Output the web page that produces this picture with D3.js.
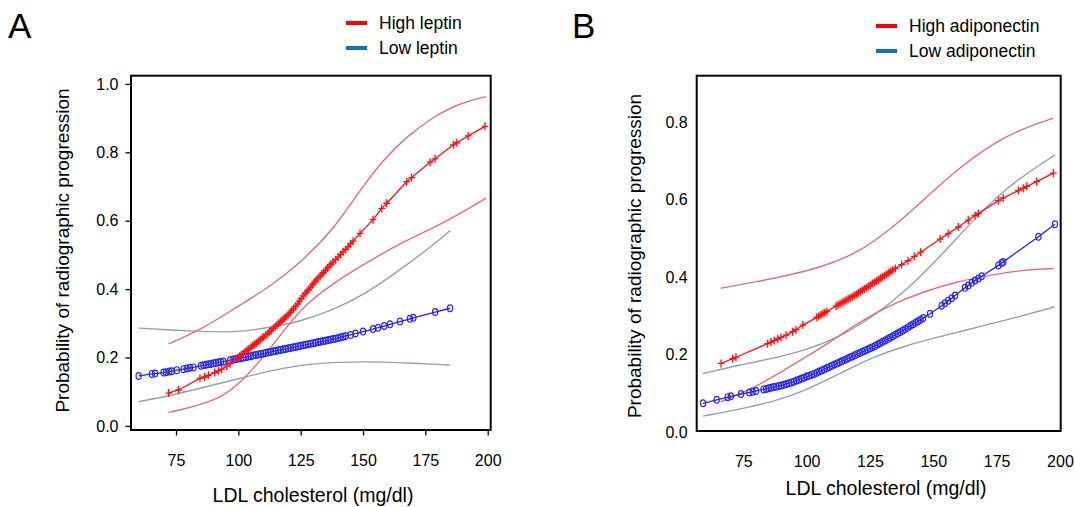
<!DOCTYPE html>
<html>
<head>
<meta charset="utf-8">
<script src="https://cdn.jsdelivr.net/npm/d3@7"></script>
<style>
  body { margin: 0; background: #fff; }
  svg { display: block; font-family: "Liberation Sans", Arial, sans-serif; }
</style>
</head>
<body>
<svg id="chart" width="1074" height="507"></svg>
<script>
// ---- data: [LDL mg/dl, probability] ----

// Panel A: leptin
const highLeptinFit = [[72,0.096],[76,0.105],[84.6,0.139],[86.5,0.143],[88,0.148],[90.5,0.156],[92,0.161],[93.3,0.166],[95.3,0.175],[96.7,0.182],
  [99,0.196],[99.8,0.2],[100.5,0.204],[101.2,0.208],[102,0.212],[102.8,0.217],[103.5,0.221],[104.2,0.225],[105,0.229],[105.8,0.234],[106.5,0.238],[107.2,0.242],[108,0.247],[108.8,0.252],[109.5,0.256],[110.2,0.26],[111,0.266],[111.8,0.27],[112.5,0.275],[113.2,0.279],[114,0.285],[114.8,0.29],[115.5,0.295],[116.2,0.3],[117,0.305],[117.8,0.31],[118.5,0.315],[119.2,0.32],[120,0.325],[120.8,0.332],[121.5,0.338],[122.2,0.343],[123,0.35],[123.8,0.357],[124.5,0.365],[125.2,0.372],[126,0.38],[126.8,0.387],[127.5,0.393],[128.2,0.399],[129,0.406],[129.8,0.413],[130.5,0.42],[131.2,0.426],[132,0.432],[132.8,0.438],[133.5,0.444],[134.2,0.449],[135,0.455],[135.8,0.462],[136.5,0.467],[137.2,0.473],[138,0.479],[139,0.486],[140,0.494],[141,0.501],[142,0.509],[143,0.516],[144,0.524],[145,0.532],[146,0.54],
  [148.8,0.563],[154,0.603],[157.5,0.636],[159.5,0.651],[167.5,0.714],[169.5,0.726],[176.9,0.771],[178.9,0.781],[186.2,0.822],[187.6,0.828],[192.2,0.848],[198.9,0.876]];
const highLeptinUpper = [[72,0.24],[84.6,0.279],[100.7,0.354],[112.7,0.407],[124.7,0.476],[138.1,0.573],[148.8,0.69],[158.1,0.778],[167.5,0.846],[178.2,0.904],[188.9,0.944],[199.3,0.963]];
const highLeptinLower = [[72,0.039],[84.6,0.061],[94,0.086],[102,0.134],[111.4,0.213],[119.4,0.29],[127.4,0.359],[138.1,0.417],[148.8,0.466],[164.8,0.534],[178.2,0.578],[191.6,0.632],[199.3,0.666]];

const lowLeptinFit = [[60,0.146],[65.3,0.152],[66.6,0.153],[70,0.156],[71,0.157],[72.3,0.159],[73.3,0.16],[75.3,0.163],[78,0.166],[79.3,0.168],[80.6,0.17],[82,0.171],
  [85,0.176],[86,0.177],[87,0.179],[88,0.18],[89,0.181],[90,0.183],[91,0.184],[92,0.186],[93,0.187],[94,0.188],[96.7,0.192],[98,0.194],[99,0.195],[100,0.197],[101,0.198],[102,0.2],[103,0.201],[104,0.203],[105,0.204],[106,0.206],[107,0.207],[108,0.209],[109,0.21],[110,0.212],[111,0.213],[112,0.215],[113,0.216],[114,0.218],[115,0.219],[116,0.221],[117,0.222],[118,0.224],[119,0.225],[120,0.227],[121,0.228],[122,0.23],[123,0.231],[124,0.233],[125,0.234],[126,0.236],[127,0.237],[128,0.239],[129,0.24],[130,0.242],[131,0.243],[132,0.245],[133,0.246],[134,0.248],[135,0.249],[136,0.251],[137,0.252],[138,0.254],[139,0.255],[140,0.257],[141,0.259],[142,0.261],[143,0.263],[145,0.266],[147,0.27],
  [150,0.276],[154,0.283],[156,0.287],[158.5,0.292],[160.8,0.297],[164.8,0.305],[168.8,0.313],[170.2,0.316],[178.9,0.333],[184.9,0.344]];
const lowLeptinUpper = [[60,0.286],[71.3,0.281],[84.6,0.276],[98,0.273],[111.4,0.286],[124.7,0.305],[138.1,0.339],[151.5,0.388],[164.8,0.456],[178.2,0.529],[184.9,0.571]];
const lowLeptinLower = [[60,0.071],[71.3,0.086],[84.6,0.11],[98,0.134],[111.4,0.159],[124.7,0.178],[138.1,0.186],[151.5,0.188],[164.8,0.185],[184.9,0.178]];

// Panel B: adiponectin
const highAdipoFit = [[66.2,0.177],[70.8,0.189],[72.1,0.193],[84.6,0.228],[85.9,0.232],[87.2,0.236],[88.6,0.24],[89.9,0.244],[91.9,0.25],[94.5,0.259],[95.8,0.264],[98.5,0.276],
  [104,0.296],[104.8,0.299],[105.6,0.302],[106.4,0.305],[107.2,0.308],[108,0.311],[111.6,0.325],[112.4,0.328],[113.2,0.331],[114,0.334],[114.8,0.337],[115.6,0.34],[116.4,0.343],[117.2,0.346],[118,0.349],[118.8,0.352],[119.6,0.355],[120.4,0.359],[121.2,0.362],[122,0.366],[122.8,0.369],[123.6,0.372],[124.4,0.376],[125.2,0.379],[126,0.383],[126.8,0.386],[127.6,0.39],[128.4,0.393],[129.2,0.397],[130,0.4],[130.8,0.404],[131.6,0.407],[132.4,0.411],[133.2,0.414],[134,0.418],[135,0.422],[137.5,0.432],[140,0.442],[142.5,0.453],[145,0.464],
  [152.7,0.498],[155.9,0.512],[159.9,0.529],[163.8,0.547],[166.5,0.559],[167.8,0.564],[175.7,0.597],[177.6,0.604],[183.6,0.623],[185.5,0.629],[186.9,0.634],[190.8,0.646],[197.4,0.668]];
const highAdipoUpper = [[66.1,0.371],[80.3,0.388],[93.4,0.405],[106.6,0.427],[119.8,0.461],[132.9,0.521],[146.1,0.599],[159.2,0.676],[172.4,0.741],[185.5,0.784],[197.4,0.81]];
const highAdipoLower = [[66.1,0.078],[80.3,0.117],[93.4,0.169],[106.6,0.22],[119.8,0.28],[132.9,0.328],[146.1,0.362],[159.2,0.388],[172.4,0.405],[185.5,0.418],[197.4,0.422]];

const lowAdipoFit = [[59.1,0.074],[64.5,0.083],[68.8,0.09],[70.1,0.092],[74.1,0.098],[77.4,0.102],[78.7,0.104],[80,0.106],
  [83,0.11],[84,0.111],[85,0.113],[86,0.114],[87,0.116],[88,0.117],[89,0.119],[90,0.12],[91,0.122],[92,0.124],[93,0.126],[94,0.128],[95,0.13],[96,0.133],[97,0.135],[98,0.138],[99,0.14],[100,0.143],[101,0.145],[102,0.148],[103,0.15],[104,0.153],[105,0.156],[106,0.159],[107,0.162],[108,0.165],[109,0.168],[110,0.171],[111,0.174],[112,0.177],[113,0.18],[114,0.183],[115,0.186],[116,0.189],[117,0.192],[118,0.195],[119,0.198],[120,0.201],[121,0.204],[122,0.207],[123,0.21],[124,0.213],[125,0.216],[126,0.219],[127,0.222],[128,0.226],[129,0.229],[130,0.233],[131,0.236],[132,0.24],[133,0.243],[134,0.247],[135,0.251],[136,0.255],[137,0.258],[138,0.262],[139,0.266],[140,0.27],[141,0.274],[142,0.278],[143,0.282],[144,0.286],[145,0.29],[146,0.294],[148.7,0.305],
  [153.3,0.326],[154.6,0.332],[155.9,0.339],[157.3,0.345],[158.6,0.352],[162.5,0.372],[163.8,0.378],[165.2,0.385],[166.5,0.391],[167.8,0.396],[169.1,0.402],[175.7,0.43],[177,0.436],[177.6,0.439],[191.5,0.504],[198,0.536]];
const lowAdipoUpper = [[59,0.151],[73.7,0.173],[86.8,0.19],[100,0.212],[113.2,0.246],[126.3,0.298],[139.5,0.366],[152.6,0.452],[165.8,0.547],[179,0.633],[198,0.715]];
const lowAdipoLower = [[59,0.041],[73.7,0.059],[86.8,0.078],[100,0.108],[113.2,0.151],[126.3,0.194],[139.5,0.224],[152.6,0.246],[165.8,0.268],[179,0.289],[198,0.323]];

const xTicks = [75, 100, 125, 150, 175, 200];
const yTicksA = [0, 0.2, 0.4, 0.6, 0.8, 1.0];
const yTicksB = [0, 0.2, 0.4, 0.6, 0.8];
const legendA = ["High leptin", "Low leptin"];
const legendB = ["High adiponectin", "Low adiponectin"];

const RED = "#ff1010", BLUE = "#2323ff";
const RED_CI = "#e0707c", BLUE_CI = "#8fa0b8";
const LEG_RED = "#ff0000", LEG_BLUE = "#0d72c6";

const svg = d3.select("#chart");

function drawPanel(cfg) {
  const x = d3.scaleLinear().domain(cfg.xDomain).range([cfg.left, cfg.right]);
  const y = d3.scaleLinear().domain(cfg.yDomain).range([cfg.bottom, cfg.top]);
  const g = svg.append("g");

  // y axis
  const yAx = g.append("g")
    .attr("transform", `translate(${cfg.left},0)`)
    .call(d3.axisLeft(y).tickValues(cfg.yTicks).tickFormat(d3.format(".1f"))
      .tickSize(cfg.tickSize).tickPadding(cfg.yPad));
  yAx.select(".domain").remove();
  yAx.selectAll("line").attr("stroke", "#000").attr("stroke-width", 1.3);
  yAx.selectAll("text").attr("font-size", 16).attr("fill", "#000")
    .attr("font-family", "Liberation Sans, Arial, sans-serif");

  // x axis
  const xAx = g.append("g")
    .attr("transform", `translate(0,${cfg.bottom})`)
    .call(d3.axisBottom(x).tickValues(xTicks).tickSize(cfg.tickSize).tickPadding(cfg.xPad));
  xAx.select(".domain").remove();
  xAx.selectAll("line").attr("stroke", "#000").attr("stroke-width", 1.3);
  xAx.selectAll("text").attr("font-size", 16).attr("fill", "#000")
    .attr("font-family", "Liberation Sans, Arial, sans-serif");

  const line = d3.line().x(d => x(d[0])).y(d => y(d[1]));
  const smooth = d3.line().x(d => x(d[0])).y(d => y(d[1])).curve(d3.curveBasis);

  // confidence bands
  [[cfg.lowUpper, BLUE_CI], [cfg.lowLower, BLUE_CI], [cfg.highUpper, RED_CI], [cfg.highLower, RED_CI]]
    .forEach(([data, col]) => {
      g.append("path").datum(data).attr("d", smooth)
        .attr("fill", "none").attr("stroke", col).attr("stroke-width", 1.4);
    });

  // low group: line with open ellipses
  g.append("path").datum(cfg.lowFit).attr("d", line)
    .attr("fill", "none").attr("stroke", BLUE).attr("stroke-width", 1.3);
  g.selectAll(".oMark").data(cfg.lowFit).enter().append("ellipse")
    .attr("cx", d => x(d[0])).attr("cy", d => y(d[1]))
    .attr("rx", 2.6).attr("ry", 3.4)
    .attr("fill", "none").attr("stroke", BLUE).attr("stroke-width", 1.2);

  // high group: line with plus marks
  g.append("path").datum(cfg.highFit).attr("d", line)
    .attr("fill", "none").attr("stroke", RED).attr("stroke-width", 1.3);
  g.selectAll(".pMark").data(cfg.highFit).enter().append("path")
    .attr("d", d => {
      const cx = x(d[0]), cy = y(d[1]);
      return `M${cx - 3.3},${cy}H${cx + 3.3}M${cx},${cy - 4}V${cy + 4}`;
    })
    .attr("stroke", RED).attr("stroke-width", 1.3);

  // frame
  g.append("rect")
    .attr("x", cfg.left).attr("y", cfg.top)
    .attr("width", cfg.right - cfg.left).attr("height", cfg.bottom - cfg.top)
    .attr("fill", "none").attr("stroke", "#000").attr("stroke-width", 2);

  // titles
  g.append("text")
    .attr("x", cfg.xTitle[0]).attr("y", cfg.xTitle[1])
    .attr("text-anchor", "middle").attr("font-size", 19.5)
    .text("LDL cholesterol (mg/dl)");
  g.append("text")
    .attr("transform", `translate(${cfg.yTitle[0]},${cfg.yTitle[1]}) rotate(-90)`)
    .attr("text-anchor", "middle").attr("font-size", 19)
    .text("Probability of radiographic progression");

  g.append("text")
    .attr("x", cfg.letter[0]).attr("y", cfg.letter[1])
    .attr("font-size", 35).text(cfg.letterText);

  // legend
  const leg = g.append("g");
  cfg.legend.forEach((name, i) => {
    const yy = cfg.legPos[1] + i * 25;
    leg.append("line")
      .attr("x1", cfg.legPos[0]).attr("x2", cfg.legPos[0] + 21)
      .attr("y1", yy).attr("y2", yy)
      .attr("stroke", i === 0 ? LEG_RED : LEG_BLUE).attr("stroke-width", 4);
    leg.append("text")
      .attr("x", cfg.legPos[0] + 33).attr("y", yy)
      .attr("dy", "0.35em").attr("font-size", 17.5)
      .text(name);
  });
}

drawPanel({
  left: 131, right: 490.7, top: 75.7, bottom: 430,
  xDomain: [56.95, 201.2], yDomain: [-0.012, 1.024],
  yTicks: yTicksA, tickSize: 5.5, yPad: 7, xPad: 19,
  highFit: highLeptinFit, highUpper: highLeptinUpper, highLower: highLeptinLower,
  lowFit: lowLeptinFit, lowUpper: lowLeptinUpper, lowLower: lowLeptinLower,
  xTitle: [313, 501.5], yTitle: [69, 250.5],
  letter: [8, 38], letterText: "A",
  legend: legendA, legPos: [346, 23]
});

drawPanel({
  left: 696.7, right: 1060.7, top: 75.7, bottom: 431,
  xDomain: [56.6, 200.3], yDomain: [0.0026, 0.9195],
  yTicks: yTicksB, tickSize: 0, yPad: 9, xPad: 25,
  highFit: highAdipoFit, highUpper: highAdipoUpper, highLower: highAdipoLower,
  lowFit: lowAdipoFit, lowUpper: lowAdipoUpper, lowLower: lowAdipoLower,
  xTitle: [886, 495], yTitle: [641, 256],
  letter: [572, 38], letterText: "B",
  legend: legendB, legPos: [876, 26]
});
</script>
</body>
</html>
